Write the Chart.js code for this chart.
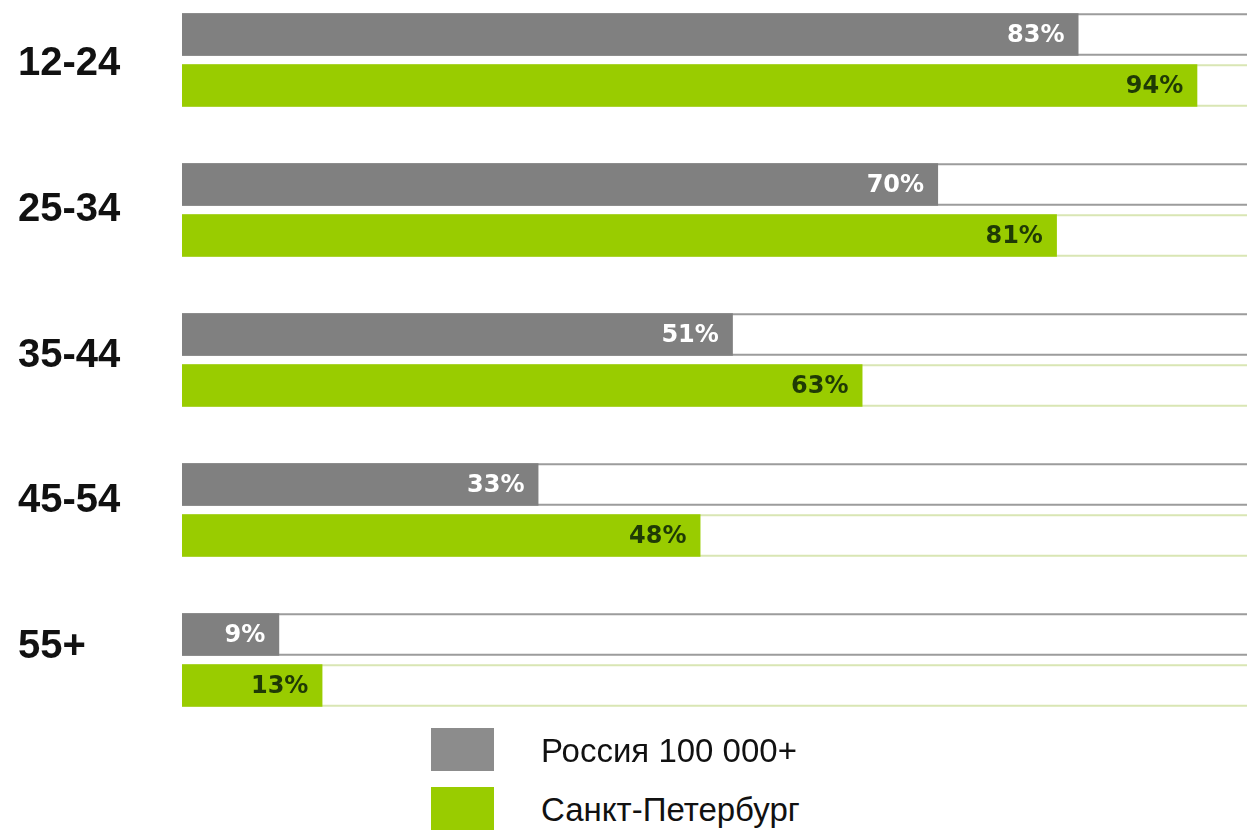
<!DOCTYPE html>
<html>
<head>
<meta charset="utf-8">
<script src="https://cdn.jsdelivr.net/npm/chart.js@4/dist/chart.umd.min.js"></script>
<style>
  html, body { margin: 0; padding: 0; background: #fff; overflow: hidden; }
  body { width: 1247px; height: 830px; position: relative; }
  #wrap { position: absolute; left: 0; top: -15px; width: 1247px; height: 750px; }
  .lg-box { position: absolute; left: 431px; width: 63px; height: 43px; }
  .lg-text { position: absolute; left: 541px; font: 33px "Liberation Sans", Arial, sans-serif; color: #111; line-height: 43px; }
</style>
</head>
<body>
<div id="wrap"><canvas id="chart"></canvas></div>
<div class="lg-box" style="top:728px;background:#8c8c8c"></div>
<div class="lg-text" id="lg-russia" style="top:729px"></div>
<div class="lg-box" style="top:787px;background:#99cc00"></div>
<div class="lg-text" id="lg-spb" style="top:788px"></div>
<script>
// age groups and shares (%)
const AGE_GROUPS = ['12-24', '25-34', '35-44', '45-54', '55+'];
const RUSSIA = [83, 70, 51, 33, 9];
const SPB = [94, 81, 63, 48, 13];
const SERIES_NAMES = ['Россия 100 000+', 'Санкт-Петербург'];

const GRAY = '#808080';
const GREEN = '#99cc00';

document.getElementById('lg-russia').textContent = SERIES_NAMES[0];
document.getElementById('lg-spb').textContent = SERIES_NAMES[1];

// thin top/bottom "track" lines running from each bar to the right edge
const tracks = {
  id: 'tracks',
  beforeDatasetsDraw(chart) {
    const { ctx, chartArea } = chart;
    const colors = ['#9c9c9c', '#d9e6b4'];
    chart.data.datasets.forEach((ds, i) => {
      chart.getDatasetMeta(i).data.forEach((bar) => {
        const { y, height } = bar.getProps(['y', 'height'], true);
        ctx.save();
        ctx.strokeStyle = colors[i];
        ctx.lineWidth = 2;
        ctx.beginPath();
        ctx.moveTo(chartArea.left, y - height / 2 + 1);
        ctx.lineTo(chartArea.right, y - height / 2 + 1);
        ctx.moveTo(chartArea.left, y + height / 2 - 1);
        ctx.lineTo(chartArea.right, y + height / 2 - 1);
        ctx.stroke();
        ctx.restore();
      });
    });
  },
};

// value labels inside the bar ends
const valueLabels = {
  id: 'valueLabels',
  afterDatasetsDraw(chart) {
    const { ctx } = chart;
    const colors = ['#ffffff', '#1f3a05'];
    chart.data.datasets.forEach((ds, i) => {
      chart.getDatasetMeta(i).data.forEach((bar, j) => {
        const { x, y } = bar.getProps(['x', 'y'], true);
        ctx.save();
        ctx.font = 'bold 24px "DejaVu Sans", Verdana, sans-serif';
        ctx.fillStyle = colors[i];
        ctx.textAlign = 'right';
        ctx.textBaseline = 'middle';
        ctx.fillText(ds.data[j] + '%', x - 14, y + 1);
        ctx.restore();
      });
    });
  },
};

new Chart(document.getElementById('chart'), {
  type: 'bar',
  data: {
    labels: AGE_GROUPS,
    datasets: [
      { label: SERIES_NAMES[0], data: RUSSIA, backgroundColor: GRAY },
      { label: SERIES_NAMES[1], data: SPB, backgroundColor: GREEN },
    ],
  },
  options: {
    indexAxis: 'y',
    responsive: true,
    maintainAspectRatio: false,
    animation: false,
    categoryPercentage: 0.68,
    barPercentage: 0.83,
    layout: { padding: { left: 18, right: 0, top: 0, bottom: 0 } },
    plugins: { legend: { display: false }, tooltip: { enabled: false } },
    scales: {
      x: { display: false, min: 0, max: 98.6 },
      y: { display: false },
      // the age labels in the original sit a bit tighter than the bar groups
      ages: {
        type: 'linear',
        position: 'left',
        reverse: true,
        offset: false,
        bounds: 'data',
        min: -0.542,
        max: 4.604,
        grid: { display: false },
        border: { display: false },
        afterBuildTicks(scale) {
          scale.ticks = AGE_GROUPS.map((_, i) => ({ value: i }));
        },
        ticks: {
          autoSkip: false,
          crossAlign: 'far',
          color: '#111',
          font: { family: '"Liberation Sans", Arial, sans-serif', size: 40, weight: 'bold' },
          callback: (v) => AGE_GROUPS[v] ?? '',
        },
        afterFit(scale) {
          scale.width = 164;
          scale.paddingTop = 0;
          scale.paddingBottom = 0;
        },
      },
    },
  },
  plugins: [tracks, valueLabels],
});
</script>
</body>
</html>
